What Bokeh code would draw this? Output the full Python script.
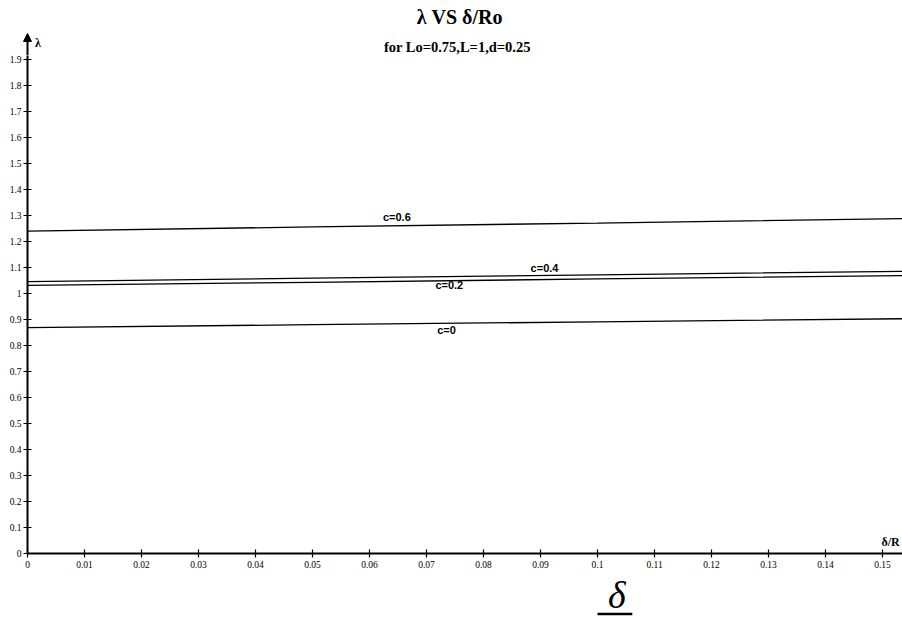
from bokeh.plotting import figure
from bokeh.layouts import column, row
from bokeh.models import FixedTicker, Label, Arrow, NormalHead, Range1d
from bokeh.embed import file_html
from bokeh.resources import INLINE

# delta/R sample positions and lambda for each clearance ratio c
x_vals = [0.0, 0.05, 0.10, 0.1535]
lam_c0 = [0.869, 0.880, 0.891, 0.903]
lam_c02 = [1.031, 1.043, 1.056, 1.069]
lam_c04 = [1.046, 1.059, 1.072, 1.085]
lam_c06 = [1.240, 1.256, 1.271, 1.288]
series_names = ["c=0", "c=0.2", "c=0.4", "c=0.6"]

x_ticks = [round(0.01 * i, 2) for i in range(16)]
x_tick_labels = ["0", "0.01", "0.02", "0.03", "0.04", "0.05", "0.06", "0.07",
                 "0.08", "0.09", "0.1", "0.11", "0.12", "0.13", "0.14", "0.15"]
y_ticks = [round(0.1 * i, 1) for i in range(20)]
y_tick_labels = ["0", "0.1", "0.2", "0.3", "0.4", "0.5", "0.6", "0.7", "0.8", "0.9",
                 "1", "1.1", "1.2", "1.3", "1.4", "1.5", "1.6", "1.7", "1.8", "1.9"]

W = 902
PX_X = 5700.0   # pixels per unit of delta/R
PX_Y = 260.0    # pixels per unit of lambda
X0 = 27         # pixel column of delta/R = 0
Y0 = 553        # pixel row of lambda = 0
TOP_H = 55      # header strip (title, arrow head)
MAIN_BOTTOM = 18
MAIN_H = (Y0 - TOP_H) + MAIN_BOTTOM
BOT_H = 618 - TOP_H - MAIN_H

x_end = 0.1535


def bare(height, y_lo, y_hi):
    f = figure(width=W, height=height, output_backend="svg", toolbar_location=None,
               x_range=Range1d(-X0 / PX_X, x_end), y_range=Range1d(y_lo, y_hi),
               x_axis_type=None, y_axis_type=None, min_border=0)
    f.outline_line_color = None
    f.grid.visible = False
    return f


def lab(fig, x, y, text, font, size, style="bold", align="center", baseline="middle"):
    fig.add_layout(Label(x=x, y=y, text=text, text_font=font, text_font_size=size,
                         text_font_style=style, text_align=align,
                         text_baseline=baseline, text_color="black"))


# ---- header strip: title, subtitle, lambda arrow ----
top = bare(TOP_H, (Y0 - TOP_H) / PX_Y, Y0 / PX_Y)
top.add_layout(Arrow(x_start=0, y_start=(Y0 - TOP_H) / PX_Y - 0.01, x_end=0, y_end=2.0,
                     line_color="black", line_width=2,
                     end=NormalHead(size=8, fill_color="black", line_color="black")))
lab(top, 0.0758, 2.063, "λ VS δ/Ro", "Liberation Serif", "20px")
lab(top, 0.0754, 1.950, "for Lo=0.75,L=1,d=0.25", "Liberation Serif", "14.5px")
lab(top, 0.0013, 1.962, "λ", "Liberation Serif", "12px", align="left")

# ---- main plot ----
p = figure(width=W, height=MAIN_H, output_backend="svg", toolbar_location=None,
           x_range=Range1d(0, x_end), y_range=Range1d(0, (Y0 - TOP_H) / PX_Y),
           min_border_left=X0, min_border_right=0, min_border_top=0,
           min_border_bottom=MAIN_BOTTOM)
p.outline_line_color = None
p.xgrid.visible = False
p.ygrid.visible = False

for ax, ticks, labels in ((p.xaxis[0], x_ticks, x_tick_labels),
                          (p.yaxis[0], y_ticks, y_tick_labels)):
    ax.ticker = FixedTicker(ticks=ticks)
    ax.major_label_overrides = {t: l for t, l in zip(ticks, labels)}
    ax.minor_tick_line_color = None
    ax.axis_line_width = 2
    ax.axis_line_color = "black"
    ax.major_tick_line_color = "black"
    ax.major_tick_line_width = 1.2
    ax.major_tick_in = 4
    ax.major_tick_out = 4
    ax.major_label_text_font = "Liberation Serif"
    ax.major_label_text_font_size = "9.5px"
    ax.major_label_text_color = "black"
p.yaxis[0].major_label_standoff = 2
p.xaxis[0].major_label_standoff = 3

for ys in (lam_c0, lam_c02, lam_c04, lam_c06):
    p.line(x_vals, ys, line_color="black", line_width=1.3)

lab(p, 0.0648, 1.296, series_names[3], "Liberation Sans", "11px")
lab(p, 0.0907, 1.100, series_names[2], "Liberation Sans", "11px")
lab(p, 0.0740, 1.031, series_names[1], "Liberation Sans", "11px")
lab(p, 0.0735, 0.8615, series_names[0], "Liberation Sans", "11px")
lab(p, 0.1530, 0.046, "δ/R", "Liberation Serif", "12px", align="right")

# ---- footer strip: delta over a fraction bar ----
bot_hi = (Y0 - (TOP_H + MAIN_H)) / PX_Y
bot = bare(BOT_H, bot_hi - BOT_H / PX_Y, bot_hi)
lab(bot, 0.1034, (Y0 - 573.0) / PX_Y, "δ", "Liberation Serif", "38px", style="italic",
    baseline="top")
bot.segment(x0=[0.1000], y0=[(Y0 - 613.5) / PX_Y], x1=[0.1061], y1=[(Y0 - 613.5) / PX_Y],
            line_color="black", line_width=2.5)

layout = column(row(top), p, row(bot), spacing=0)
open("out.html", "w").write(file_html(layout, INLINE))
